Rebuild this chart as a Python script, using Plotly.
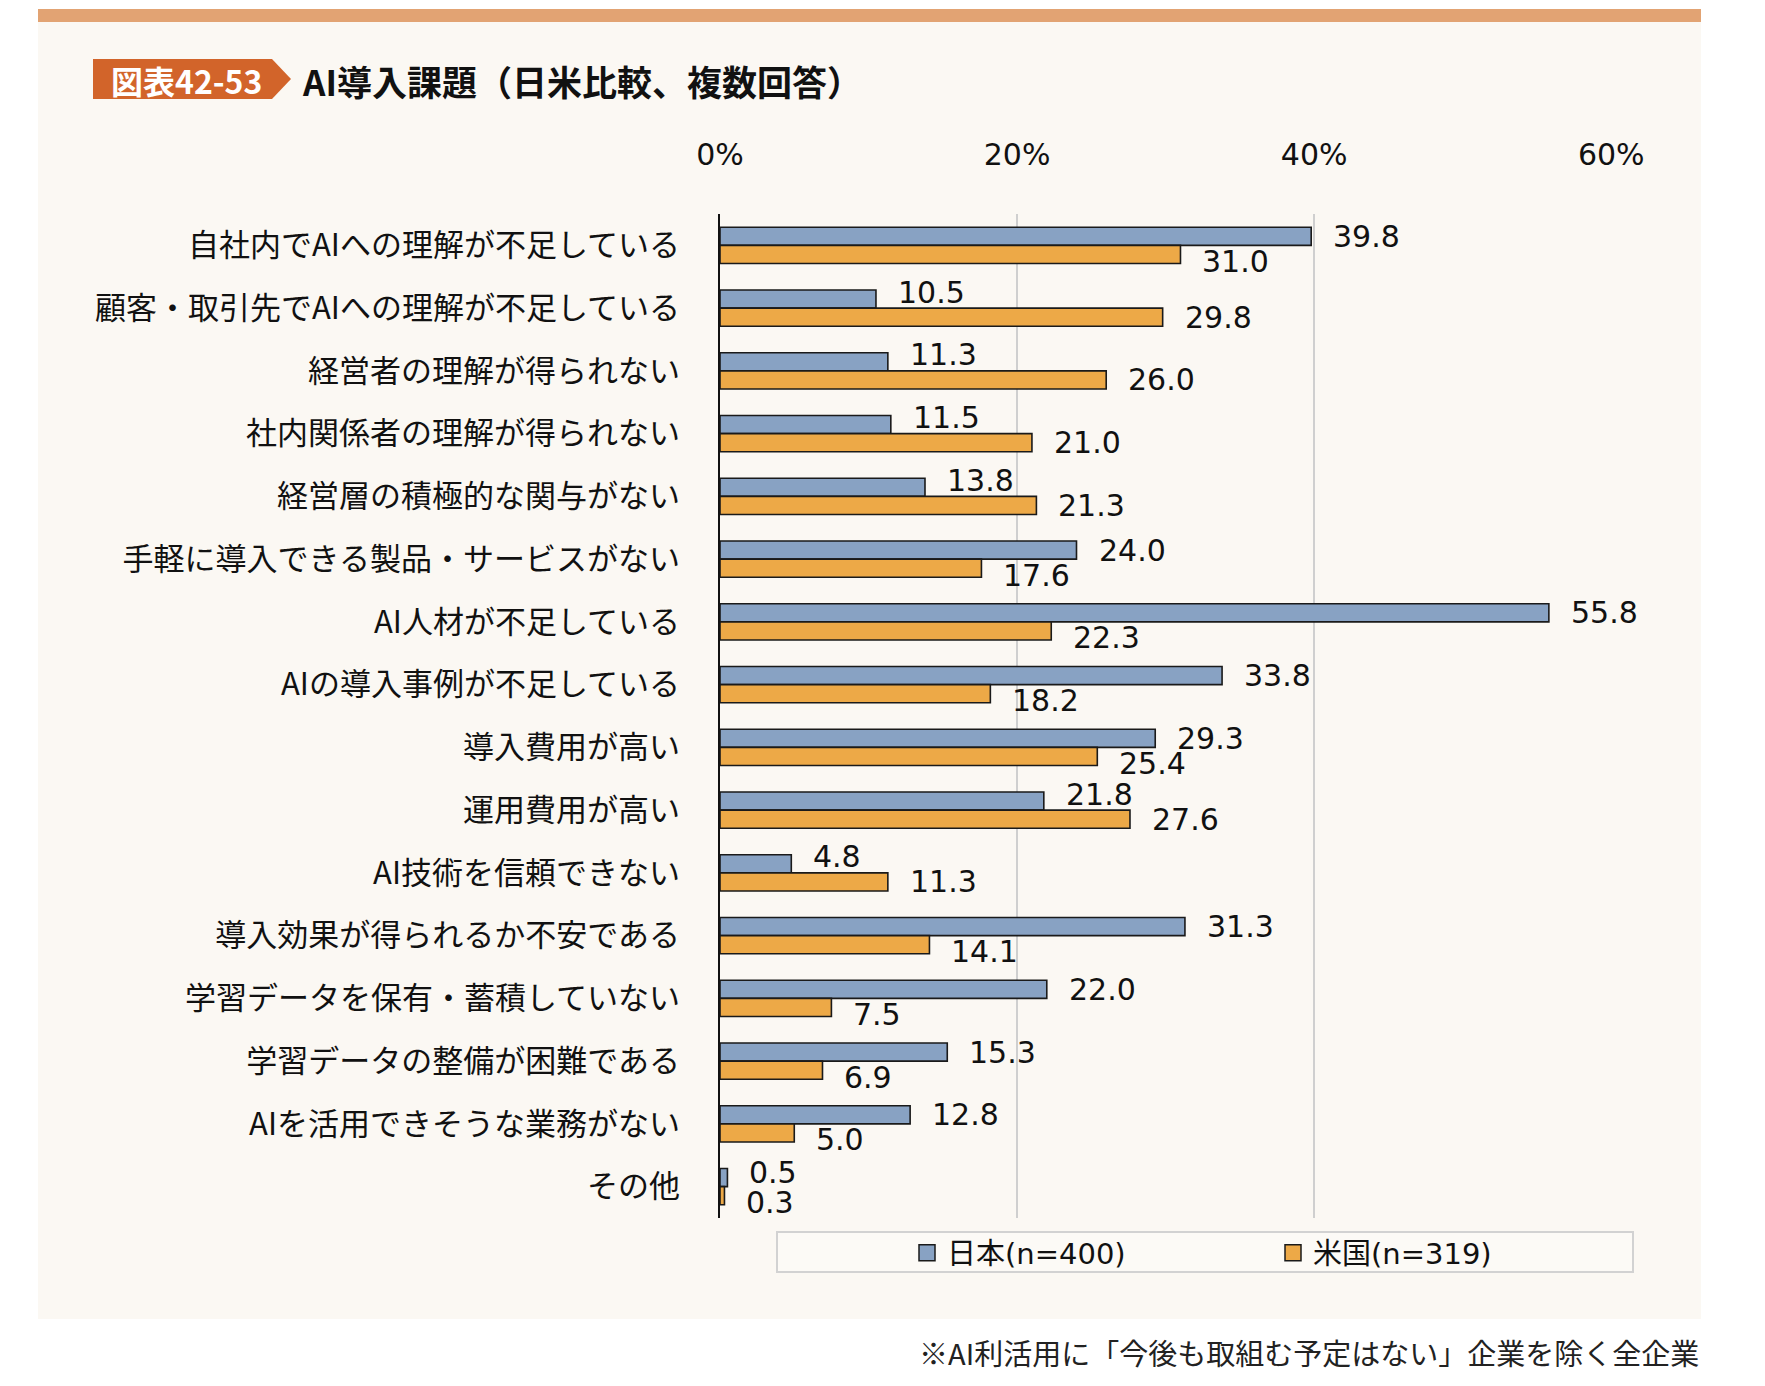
import plotly.graph_objects as go

categories = [
    "自社内でAIへの理解が不足している",
    "顧客・取引先でAIへの理解が不足している",
    "経営者の理解が得られない",
    "社内関係者の理解が得られない",
    "経営層の積極的な関与がない",
    "手軽に導入できる製品・サービスがない",
    "AI人材が不足している",
    "AIの導入事例が不足している",
    "導入費用が高い",
    "運用費用が高い",
    "AI技術を信頼できない",
    "導入効果が得られるか不安である",
    "学習データを保有・蓄積していない",
    "学習データの整備が困難である",
    "AIを活用できそうな業務がない",
    "その他",
]
japan = [39.8, 10.5, 11.3, 11.5, 13.8, 24.0, 55.8, 33.8, 29.3, 21.8, 4.8, 31.3, 22.0, 15.3, 12.8, 0.5]
usa = [31.0, 29.8, 26.0, 21.0, 21.3, 17.6, 22.3, 18.2, 25.4, 27.6, 11.3, 14.1, 7.5, 6.9, 5.0, 0.3]
series_names = ["日本(n=400)", "米国(n=319)"]
tick_vals = [0, 20, 40, 60]
tick_text = ["0%", "20%", "40%", "60%"]
title_badge = "図表42-53"
title_text = "AI導入課題（日米比較、複数回答）"
footnote = "※AI利活用に「今後も取組む予定はない」企業を除く全企業"

# page body has an 8px margin: figure coordinates = reference coordinates - 8
OFF = 8
W, H = 1765 - OFF, 1386 - OFF
XMAX = 60.05
L, T = 720 - OFF, 214 - OFF
B = 1218 - OFF
R = L + round(297 / 20 * XMAX)
PW, PH = R - L, B - T


def px(x):
    return (x - OFF - L) / PW


def py(y):
    return 1 - (y - OFF - T) / PH


BLUE = "#88A2C3"
ORANGE = "#EDA947"
PANEL = "#FBF8F3"
OUTLINE = "#1a1a1a"
CJK = "Noto Sans CJK JP"
LATIN = "Verdana, DejaVu Sans, Noto Sans CJK JP"

fig = go.Figure()
fig.add_trace(go.Bar(
    y=categories, x=japan, orientation="h", name=series_names[0],
    marker=dict(color=BLUE, line=dict(color=OUTLINE, width=1.6)),
    legendgroup="jp", showlegend=False, hoverinfo="x+y",
))
fig.add_trace(go.Bar(
    y=categories, x=usa, orientation="h", name=series_names[1],
    marker=dict(color=ORANGE, line=dict(color=OUTLINE, width=1.6)),
    legendgroup="us", showlegend=False, hoverinfo="x+y",
))
# legend entries (larger square swatches)
for name, col, grp in [(series_names[0], BLUE, "jp"), (series_names[1], ORANGE, "us")]:
    fig.add_trace(go.Scatter(
        x=[None], y=[None], mode="markers", name=name, legendgroup=grp,
        marker=dict(symbol="square", size=18, color=col, line=dict(color=OUTLINE, width=1.5)),
        showlegend=True, hoverinfo="skip",
    ))

annotations = []
for i, cat in enumerate(categories):
    jp, us = japan[i], usa[i]
    if abs(jp - us) < 1:
        jshift, ushift = 5, -7
    elif jp >= us:
        jshift, ushift = 0, -7
    else:
        jshift, ushift = 7, 0
    annotations.append(dict(
        x=jp, y=cat, xref="x", yref="y", text=f"{jp:.1f}", showarrow=False,
        xanchor="left", yanchor="middle", xshift=20, yshift=9 + jshift,
        font=dict(family=LATIN, size=30, color="#111111"),
    ))
    annotations.append(dict(
        x=us, y=cat, xref="x", yref="y", text=f"{us:.1f}", showarrow=False,
        xanchor="left", yanchor="middle", xshift=20, yshift=-9 + ushift,
        font=dict(family=LATIN, size=30, color="#111111"),
    ))

annotations += [
    dict(x=px(186), y=py(80), xref="paper", yref="paper", text=f"<b>{title_badge}</b>",
         showarrow=False, xanchor="center", yanchor="middle",
         font=dict(family=CJK, size=32, color="#FFFFFF")),
    dict(x=px(300), y=py(80), xref="paper", yref="paper", text=f"<b>{title_text}</b>",
         showarrow=False, xanchor="left", yanchor="middle",
         font=dict(family=CJK, size=35, color="#111111")),
    dict(x=px(1701), y=py(1352), xref="paper", yref="paper", text=footnote,
         showarrow=False, xanchor="right", yanchor="middle",
         font=dict(family=CJK, size=29, color="#222222")),
]

shapes = [
    dict(type="rect", xref="paper", yref="paper", x0=px(38), x1=px(1701), y0=py(22), y1=py(1319),
         fillcolor=PANEL, line=dict(width=0), layer="below"),
    dict(type="rect", xref="paper", yref="paper", x0=px(38), x1=px(1701), y0=py(9), y1=py(22),
         fillcolor="#E2A373", line=dict(width=0), layer="below"),
    dict(type="path", xref="paper", yref="paper",
         path=f"M {px(93)},{py(59)} L {px(272)},{py(59)} L {px(291)},{py(79)} L {px(272)},{py(99)} L {px(93)},{py(99)} Z",
         fillcolor="#D2642A", line=dict(width=0), layer="below"),
    dict(type="rect", xref="paper", yref="paper", x0=px(777), x1=px(1633), y0=py(1232), y1=py(1272),
         fillcolor="#FCFAF6", line=dict(color="#D2D2D2", width=2), layer="below"),
]

fig.update_layout(
    width=W, height=H,
    margin=dict(l=L, r=W - R, t=T, b=H - B, pad=0),
    paper_bgcolor="#FFFFFF",
    plot_bgcolor="rgba(0,0,0,0)",
    barmode="group", bargap=0.42, bargroupgap=0,
    showlegend=True,
    legend=dict(
        orientation="h", x=px(907), y=py(1253), xanchor="left", yanchor="middle",
        bgcolor="rgba(0,0,0,0)", borderwidth=0,
        font=dict(family=LATIN, size=29, color="#111111"),
        entrywidth=321, entrywidthmode="pixels", traceorder="normal",
    ),
    xaxis=dict(
        range=[0, XMAX], side="top", tickvals=tick_vals, ticktext=tick_text,
        showgrid=True, gridcolor="#CFCFCF", gridwidth=1.5,
        zeroline=False, showline=False, ticks="",
        tickfont=dict(family=LATIN, size=30, color="#111111"),
        ticklabelstandoff=42, fixedrange=True,
    ),
    yaxis=dict(
        range=[15.5, -0.5], type="category",
        showline=True, linecolor="#111111", linewidth=1.6,
        showgrid=False, zeroline=False, ticks="",
        tickfont=dict(family=CJK, size=31, color="#111111"),
        ticklabelstandoff=32, fixedrange=True,
    ),
    shapes=shapes,
    annotations=annotations,
)

fig.write_html("out.html")
